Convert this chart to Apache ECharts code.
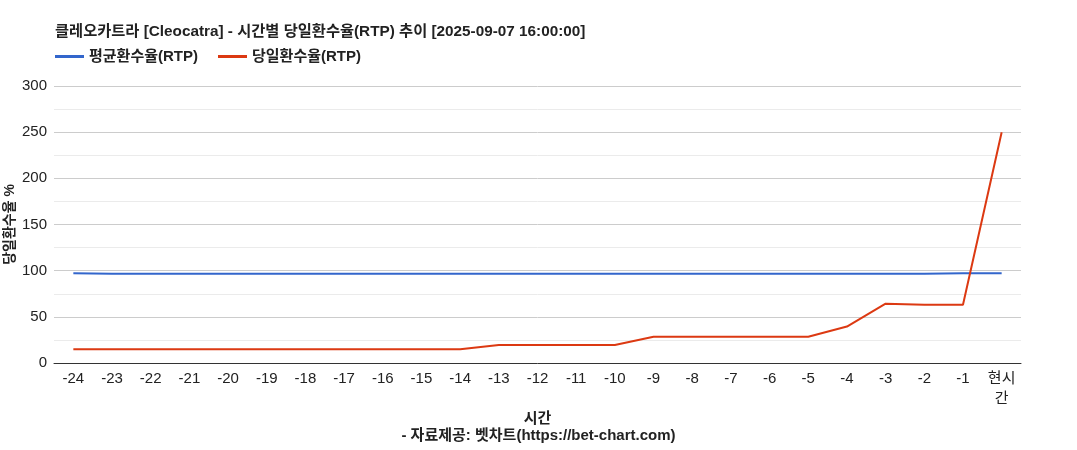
<!DOCTYPE html>
<html><head><meta charset="utf-8">
<script src="https://cdn.jsdelivr.net/npm/echarts@6/dist/echarts.min.js"></script>
<style>html,body{margin:0;padding:0;background:#fff}#c{width:1077px;height:450px}</style>
</head><body><div id="c"></div>
<script>
const categories = ['-24','-23','-22','-21','-20','-19','-18','-17','-16','-15','-14','-13','-12','-11','-10','-9','-8','-7','-6','-5','-4','-3','-2','-1','현시간'];
const avgRtp = [97.3,96.7,96.7,96.7,96.7,96.7,96.7,96.7,96.7,96.7,96.7,96.7,96.7,96.7,96.7,96.7,96.7,96.7,96.7,96.7,96.7,96.7,96.7,97.2,97.2];
const dayRtp = [15,15,15,15,15,15,15,15,15,15,15,19.5,19.5,19.5,19.5,28.5,28.5,28.5,28.5,28.5,39.5,64.3,63,63,250];
const yTicks = {min:0, max:300, interval:50};
const FONT = '"Liberation Sans","Noto Sans CJK KR",sans-serif';
const chart = echarts.init(document.getElementById('c'));
chart.setOption({
  animation:false,
  title:[
    {text:'클레오카트라 [Cleocatra] - 시간별 당일환수율(RTP) 추이 [2025-09-07 16:00:00]', left:50, top:19,
     textStyle:{fontFamily:FONT, fontSize:15.3, fontWeight:'bold', color:'#222'}},
    {text:'- 자료제공: 벳차트(https://bet-chart.com)', left:'center', top:423,
     textStyle:{fontFamily:FONT, fontSize:15, fontWeight:'bold', color:'#222'}}
  ],
  legend:{left:50, top:44, icon:'rect', itemWidth:29, itemHeight:3, itemGap:20,
    textStyle:{fontFamily:FONT, fontSize:15, fontWeight:'bold', color:'#222'},
    data:['평균환수율(RTP)','당일환수율(RTP)']},
  grid:{left:54, right:56, top:86, bottom:87, outerBoundsMode:'none', containLabel:false},
  xAxis:{type:'category', data:categories, boundaryGap:true,
    name:'시간', nameLocation:'middle', nameGap:48, nameMoveOverlap:false,
    nameTextStyle:{fontFamily:FONT, fontSize:15, fontWeight:'bold', color:'#222'},
    axisTick:{show:false}, axisLine:{lineStyle:{color:'#333'}},
    axisLabel:{fontFamily:FONT, fontSize:15, color:'#222', margin:6, interval:0, lineHeight:20,
      formatter:v=> v==='현시간' ? '현시\n간' : v}},
  yAxis:{type:'value', min:yTicks.min, max:yTicks.max, interval:yTicks.interval,
    name:'당일환수율 %', nameLocation:'middle', nameGap:37, nameRotate:90, nameMoveOverlap:false,
    nameTextStyle:{fontFamily:FONT, fontSize:14, fontWeight:'bold', color:'#222'},
    axisLabel:{fontFamily:FONT, fontSize:15, color:'#222', margin:7},
    axisLine:{show:false}, axisTick:{show:false},
    splitLine:{lineStyle:{color:'#cccccc'}},
    minorTick:{show:false, splitNumber:2},
    minorSplitLine:{show:true, lineStyle:{color:'#ebebeb'}}},
  series:[
    {name:'평균환수율(RTP)', type:'line', data:avgRtp, symbol:'none', color:'#3366cc', lineStyle:{width:2}},
    {name:'당일환수율(RTP)', type:'line', data:dayRtp, symbol:'none', color:'#dc3912', lineStyle:{width:2}}
  ]
});
</script></body></html>
